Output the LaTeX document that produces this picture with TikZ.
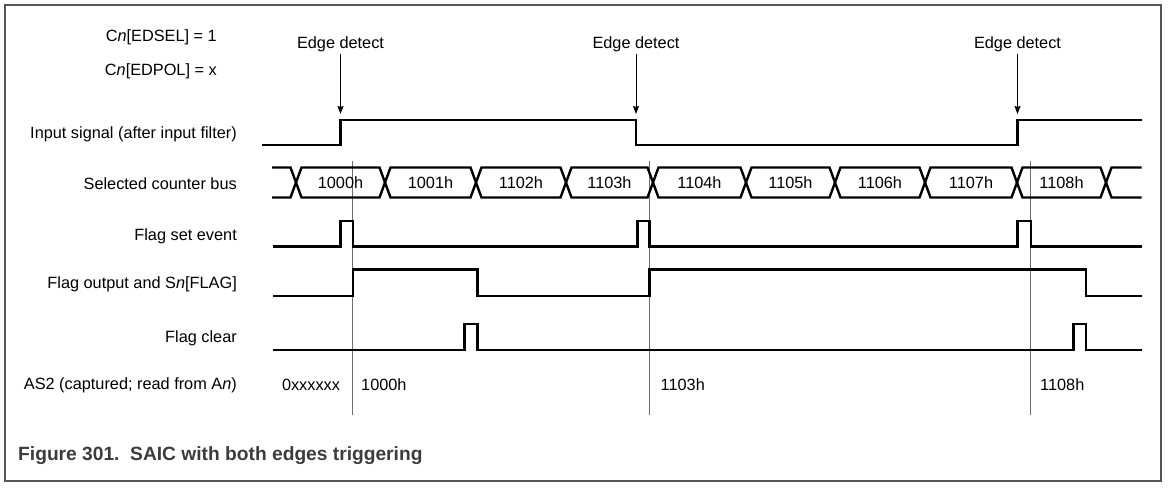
\documentclass[tikz,border=0pt]{standalone}
\usepackage{fontspec}
\setmainfont{Liberation Sans}
\usetikzlibrary{arrows.meta}
\definecolor{framegray}{RGB}{85,85,85}
\definecolor{capgray}{RGB}{60,60,60}
\definecolor{markgray}{RGB}{110,110,110}

\begin{document}
\begin{tikzpicture}[x=1pt,y=-1pt,
	txt/.style={font=\fontsize{16.3}{19}\selectfont, inner sep=0pt, text height=11.7pt, text depth=0pt},
	rlbl/.style={txt, anchor=east},
	edlbl/.style={txt, inner ysep=5pt},
	sig/.style={line width=2.4pt, line join=miter},
	marker/.style={line width=1pt, draw=markgray},
	edgearrow/.style={line width=0.9pt, -{Stealth[length=8pt,width=6pt,inset=1pt]}}]
	\useasboundingbox (0,0) rectangle (1169,489);
	
	%frame
	\draw[line width=2pt, framegray] (5,5.5) rectangle (1161,481);
	
	%settings
	\node[rlbl] (edsel) at (217,35.5) {C\textit{n}[EDSEL] = 1};
	\node[rlbl] (edpol) at (217,70)   {C\textit{n}[EDPOL] = x};
	
	%signal labels
	\node[rlbl] (lblin)   at (237,133) {Input signal (after input filter)};
	\node[rlbl] (lblbus)  at (237,184) {Selected counter bus};
	\node[rlbl] (lblset)  at (237,235) {Flag set event};
	\node[rlbl] (lblflag) at (237,283) {Flag output and S\textit{n}[FLAG]};
	\node[rlbl] (lblclr)  at (237,337) {Flag clear};
	\node[rlbl] (lblas)   at (237,384) {AS2 (captured; read from A\textit{n})};
	
	%capture markers
	\draw[marker] (352.7,161.5) -- (352.7,415);
	\draw[marker] (649.3,161.5) -- (649.3,415);
	\draw[marker] (1030.7,161.5) -- (1030.7,415);
	
	%edge detect
	\node[edlbl] (ed1) at (340.5,42.5) {Edge detect};
	\node[edlbl] (ed2) at (636,42.5)   {Edge detect};
	\node[edlbl] (ed3) at (1017.5,42.5) {Edge detect};
	\coordinate (tip1) at (340.5,114);
	\coordinate (tip2) at (636,114);
	\coordinate (tip3) at (1017.5,114);
	\draw[edgearrow] (ed1.south) -- (tip1);
	\draw[edgearrow] (ed2.south) -- (tip2);
	\draw[edgearrow] (ed3.south) -- (tip3);
	
	%input signal
	\draw[sig] (262,145)--(340.5,145)--(340.5,120)--(636,120)--(636,145)--(1017.5,145)--(1017.5,120)--(1141.5,120);
	
	%counter bus
	\draw[sig] (272,167.5)--(290.5,167.5)--(296,182.5)--(290.5,197.5)--(272,197.5);
	\foreach \a/\b/\v in {296/385/1000h, 385/476/1001h, 476/566/1102h, 566/653/1103h, 653/746/1104h, 746/835/1105h, 835/925/1106h, 925/1017/1107h, 1017/1106/1108h}
	{
		\draw[sig] (\a,182.5)--(\a+5.5,167.5)--(\b-5.5,167.5)--(\b,182.5)--(\b-5.5,197.5)--(\a+5.5,197.5)--cycle;
		\node[txt] (bus\v) at ({(\a+\b)/2},182.5) {\v};
	}
	\draw[sig] (1141.5,167.5)--(1111.5,167.5)--(1106,182.5)--(1111.5,197.5)--(1141.5,197.5);
	
	%flag set event
	\draw[sig] (273,246.5)--(340.5,246.5)--(340.5,221)--(352.7,221)--(352.7,246.5)--(637.5,246.5)--(637.5,221)--(649.3,221)--(649.3,246.5)--(1017.5,246.5)--(1017.5,221)--(1030.7,221)--(1030.7,246.5)--(1141.5,246.5);
	
	%flag output
	\draw[sig] (273,296)--(352.7,296)--(352.7,269.5)--(477.5,269.5)--(477.5,296)--(649.3,296)--(649.3,269.5)--(1086,269.5)--(1086,296)--(1141.5,296);
	
	%flag clear
	\draw[sig] (273,350)--(464.5,350)--(464.5,324)--(477.5,324)--(477.5,350)--(1073.5,350)--(1073.5,324)--(1086,324)--(1086,350)--(1141.5,350);
	
	%captured values
	\node[txt] (as0) at (311,385) {0xxxxxx};
	\node[txt, anchor=west] (as1) at (361,385)  {1000h};
	\node[txt, anchor=west] (as2) at (660.5,385) {1103h};
	\node[txt, anchor=west] (as3) at (1040,385) {1108h};
	
	%caption
	\node[anchor=west, inner sep=0pt, text height=13.8pt, text depth=0pt, text=capgray, font=\fontsize{19.2}{22}\selectfont\bfseries] (caption) at (18,454) {Figure 301.\ \ SAIC with both edges triggering};
\end{tikzpicture}
\end{document}
